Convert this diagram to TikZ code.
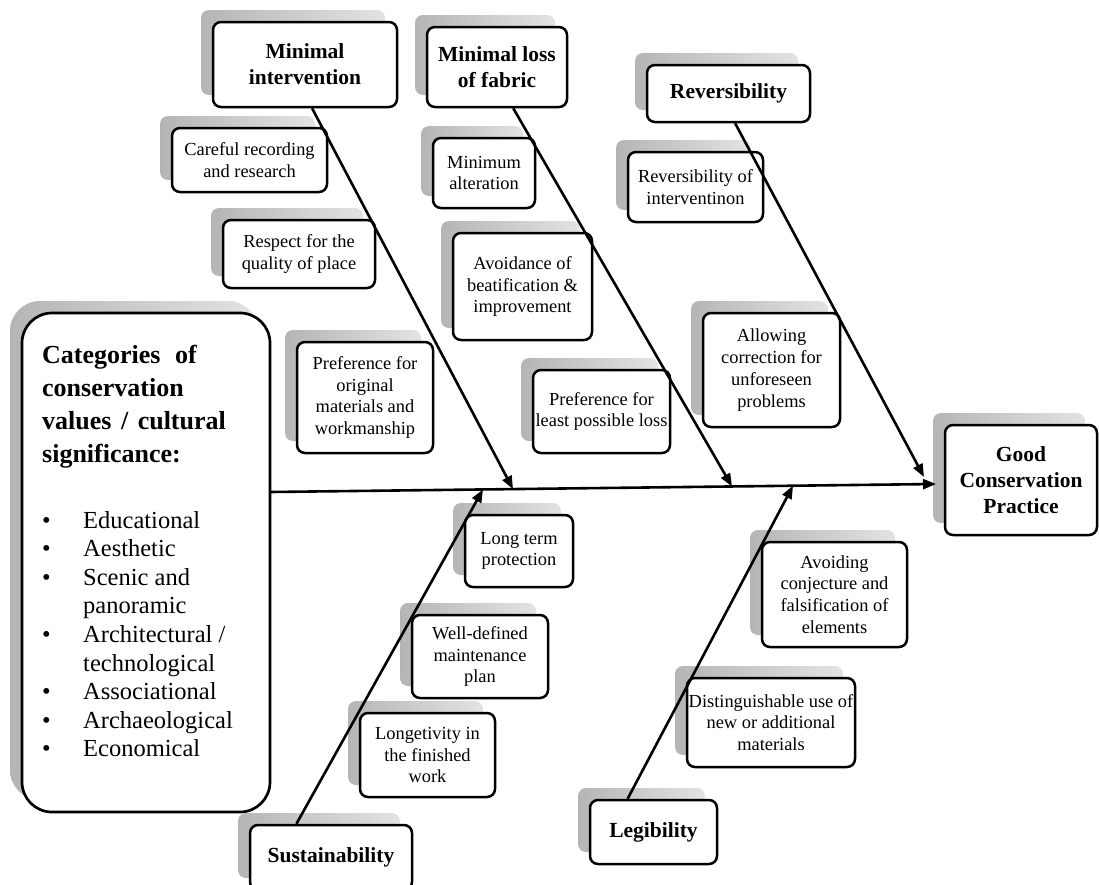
\documentclass[tikz,border=0pt]{standalone}
\usepackage{fontspec}
\setmainfont{Liberation Serif}
\usetikzlibrary{arrows.meta,calc}

\tikzset{
  card/.style={draw=black, line width=2.5pt, rounded corners=8pt, fill=white,
    inner sep=0pt, align=center, font=\fontsize{18.4}{21.8}\selectfont,
    preaction={draw=none, left color=gray!58, right color=gray!22,
      transform canvas={shift={(-12pt,12pt)}}}},
  headcard/.style={card, font=\bfseries\fontsize{21.5}{26}\selectfont},
  link/.style={line width=2.6pt, -{Triangle[length=13pt,width=10pt]}},
}
\newcommand{\bul}{\makebox[41pt][l]{•}}

\begin{document}
\begin{tikzpicture}[x=1pt,y=-1pt]
\useasboundingbox (0,0) rectangle (1099,884);

% main categories
\node[card, rounded corners=30pt, line width=2.7pt, minimum width=248pt, minimum height=499pt] (cat) at (146,562.5) {};
\node[anchor=base west, inner sep=0pt] (cattitle) at (42,363)
  {\parbox[t]{228pt}{\raggedright\bfseries\fontsize{26}{33}\selectfont
   Categories\hspace{8pt} of\\conservation\\values\hspace{3pt} /\hspace{3pt} cultural\\significance:}};
\node[anchor=base west, inner sep=0pt] (catlist) at (42,528)
  {\parbox[t]{228pt}{\raggedright\fontsize{24.5}{28.6}\selectfont
   \bul Educational\\ \bul Aesthetic\\ \bul Scenic and\\ \hspace*{41pt}panoramic\\
   \bul Architectural /\\ \hspace*{41pt}technological\\ \bul Associational\\
   \bul Archaeological\\ \bul Economical}};

% effect
\node[headcard, minimum width=152pt, minimum height=110pt] (gcp) at (1021,480) {Good\\Conservation\\Practice};

% principles
\node[headcard, minimum width=184pt, minimum height=85pt] (mi) at (305,64.5) {Minimal\\intervention};
\node[headcard, minimum width=140pt, minimum height=80pt] (mlf) at (497,67) {Minimal loss\\of fabric};
\node[headcard, minimum width=163pt, minimum height=57pt] (rev) at (728.5,93.5) {Reversibility};
\node[headcard, minimum width=162pt, minimum height=65pt] (sus) at (331,857.5) {Sustainability};
\node[headcard, minimum width=127pt, minimum height=64pt] (leg) at (653.5,832) {Legibility};

% details
\node[card, minimum width=155pt, minimum height=64pt] (crr) at (249.5,160) {Careful recording\\and research};
\node[card, minimum width=152pt, minimum height=68pt] (rqp) at (299,254) {Respect for the\\quality of place};
\node[card, minimum width=136pt, minimum height=111pt] (pom) at (365,397.5) {Preference for\\original\\materials and\\workmanship};
\node[card, minimum width=102pt, minimum height=70pt] (ma) at (484,173) {Minimum\\alteration};
\node[card, minimum width=139pt, minimum height=107pt] (abi) at (522.5,286.5) {Avoidance of\\beatification \&\\improvement};
\node[card, minimum width=137pt, minimum height=83pt] (plpl) at (601.5,411.5) {Preference for\\least possible loss};
\node[card, minimum width=135pt, minimum height=70pt] (roi) at (695.5,187) {Reversibility of\\interventinon};
\node[card, minimum width=137pt, minimum height=114pt] (acup) at (771.5,370) {Allowing\\correction for\\unforeseen\\problems};
\node[card, minimum width=108pt, minimum height=72pt] (ltp) at (519,551) {Long term\\protection};
\node[card, minimum width=136pt, minimum height=83pt] (wdmp) at (480,656.5) {Well-defined\\maintenance\\plan};
\node[card, minimum width=135pt, minimum height=84pt] (lfw) at (427.5,755) {Longetivity in\\the finished\\work};
\node[card, minimum width=145pt, minimum height=105pt] (acfe) at (834.5,594.5) {Avoiding\\conjecture and\\falsification of\\elements};
\node[card, minimum width=168pt, minimum height=89pt] (dunam) at (771,722.5) {Distinguishable use of\\new or additional\\materials};

% spine junctions
\coordinate (s0) at (270,492);
\coordinate (jsus) at (483,489.4);
\coordinate (jmi) at (513,489.1);
\coordinate (jmlf) at (732,486.5);
\coordinate (jleg) at (793,485.7);
\coordinate (jrev) at (924,477);
\coordinate (s1) at (936,484);

% spine and bones
\draw[link] (s0) -- (s1);
\draw[link] ($(mi.south west)!0.538!(mi.south east)$) -- (jmi);
\draw[link] ($(mlf.south west)!0.614!(mlf.south east)$) -- (jmlf);
\draw[link] ($(rev.south west)!0.54!(rev.south east)$) -- (jrev);
\draw[link] ($(sus.north west)!0.29!(sus.north east)$) -- (jsus);
\draw[link] ($(leg.north west)!0.30!(leg.north east)$) -- (jleg);
\end{tikzpicture}
\end{document}
